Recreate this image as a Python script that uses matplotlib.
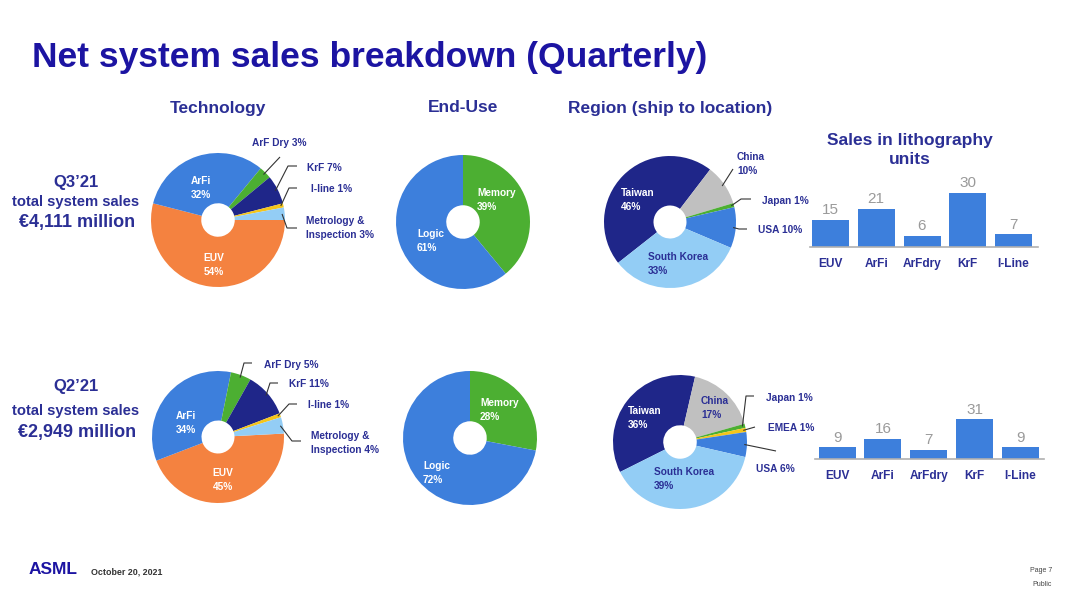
import numpy as np
import matplotlib.pyplot as plt

plt.rcParams['font.family'] = ['Liberation Sans', 'DejaVu Sans']

W, H = 1080, 600

# ---- data ----
tech_names = ['EUV', 'ArFi', 'ArF Dry', 'KrF', 'I-line', 'Metrology &\nInspection']
tech_q3 = [54, 32, 3, 7, 1, 3]
tech_q2 = [45, 34, 5, 11, 1, 4]

enduse_names = ['Memory', 'Logic']
enduse_q3 = [39, 61]
enduse_q2 = [28, 72]

region_names_q3 = ['Taiwan', 'China', 'Japan', 'USA', 'South Korea']
region_q3 = [46, 10, 1, 10, 33]
region_names_q2 = ['Taiwan', 'China', 'Japan', 'EMEA', 'USA', 'South Korea']
region_q2 = [36, 17, 1, 1, 6, 39]

unit_names = ['EUV', 'ArFi', 'ArFdry', 'KrF', 'I-Line']
units_q3 = [15, 21, 6, 30, 7]
units_q2 = [9, 16, 7, 31, 9]

# ---- colours ----
ORANGE = '#f48240'
BLUE = '#3d7fdc'
GREEN = '#4caf32'
NAVY = '#1f2689'
YELLOW = '#f5c51a'
LIGHT = '#93cdf5'
GREY = '#c0c0c0'
TITLE = '#1c14a2'
DARK = '#2b2f95'

tech_colors = [ORANGE, BLUE, GREEN, NAVY, YELLOW, LIGHT]
enduse_colors = [GREEN, BLUE]
region_colors = {'Taiwan': NAVY, 'China': GREY, 'Japan': GREEN, 'EMEA': YELLOW,
                 'USA': BLUE, 'South Korea': LIGHT}

fig = plt.figure(figsize=(10.8, 6), dpi=100)
ax = fig.add_axes([0, 0, 1, 1])


def donut(vals, colors, cx, cy, start, r=67):
    wedges, _ = ax.pie(vals, colors=colors, startangle=start, counterclock=False,
                       radius=r, center=(cx, H - cy),
                       wedgeprops=dict(width=r * 0.75, linewidth=0))
    return wedges


def edge_pt(w, frac=0.96):
    a = np.deg2rad((w.theta1 + w.theta2) / 2)
    return (w.center[0] + w.r * frac * np.cos(a),
            w.center[1] + w.r * frac * np.sin(a))


def inside(txt, x, y, color='white', ha='left'):
    ax.text(x, H - y, txt, color=color, fontsize=7.3, fontweight='bold',
            ha=ha, va='center', linespacing=1.5)


def outside(w, txt, x, y, pts):
    x0, y0 = edge_pt(w)
    xs = [x0] + [p[0] for p in pts]
    ys = [y0] + [H - p[1] for p in pts]
    ax.plot(xs, ys, color='#333333', lw=0.8, solid_capstyle='butt')
    ax.text(x, H - y, txt, color=DARK, fontsize=7.3, fontweight='bold',
            ha='left', va='center', linespacing=1.5)


# ---- technology ----
w = donut(tech_q3, tech_colors, 218, 220, 0)
inside(f'{tech_names[1]}\n{tech_q3[1]}%', 201, 188, ha='center')
inside(f'{tech_names[0]}\n{tech_q3[0]}%', 214, 265, ha='center')
outside(w[2], f'{tech_names[2]} {tech_q3[2]}%', 252, 143, [(280, 157)])
outside(w[3], f'{tech_names[3]} {tech_q3[3]}%', 307, 168, [(288, 166), (297, 166)])
outside(w[4], f'{tech_names[4]} {tech_q3[4]}%', 311, 189, [(289, 188), (297, 188)])
outside(w[5], f'{tech_names[5]} {tech_q3[5]}%', 306, 228, [(287, 228), (297, 228)])

w = donut(tech_q2, tech_colors, 218, 437, 3, r=66)
inside(f'{tech_names[1]}\n{tech_q2[1]}%', 186, 423, ha='center')
inside(f'{tech_names[0]}\n{tech_q2[0]}%', 223, 480, ha='center')
outside(w[2], f'{tech_names[2]} {tech_q2[2]}%', 264, 365, [(244, 363), (252, 363)])
outside(w[3], f'{tech_names[3]} {tech_q2[3]}%', 289, 384, [(270, 383), (278, 383)])
outside(w[4], f'{tech_names[4]} {tech_q2[4]}%', 308, 405, [(289, 404), (297, 404)])
outside(w[5], f'{tech_names[5]} {tech_q2[5]}%', 311, 443, [(292, 441), (301, 441)])

# ---- end-use ----
donut(enduse_q3, enduse_colors, 463, 222, 90)
inside(f'{enduse_names[0]}\n{enduse_q3[0]}%', 477, 200)
inside(f'{enduse_names[1]}\n{enduse_q3[1]}%', 417, 241)

donut(enduse_q2, enduse_colors, 470, 438, 90)
inside(f'{enduse_names[0]}\n{enduse_q2[0]}%', 480, 410)
inside(f'{enduse_names[1]}\n{enduse_q2[1]}%', 423, 473)

# ---- region ----
w = donut(region_q3, [region_colors[n] for n in region_names_q3], 670, 222, 218.2, r=66)
inside(f'{region_names_q3[0]}\n{region_q3[0]}%', 621, 200)
inside(f'{region_names_q3[4]}\n{region_q3[4]}%', 648, 264, color=DARK)
outside(w[1], f'{region_names_q3[1]}\n{region_q3[1]}%', 737, 164, [(733, 169)])
outside(w[2], f'{region_names_q3[2]} {region_q3[2]}%', 762, 201, [(741, 199), (751, 199)])
outside(w[3], f'{region_names_q3[3]} {region_q3[3]}%', 758, 230, [(739, 229), (747, 229)])

w = donut(region_q2, [region_colors[n] for n in region_names_q2], 680, 442, 206.6)
inside(f'{region_names_q2[0]}\n{region_q2[0]}%', 628, 418)
inside(f'{region_names_q2[1]}\n{region_q2[1]}%', 701, 408, color=DARK)
inside(f'{region_names_q2[5]}\n{region_q2[5]}%', 654, 479, color=DARK)
outside(w[2], f'{region_names_q2[2]} {region_q2[2]}%', 766, 398, [(746, 396), (754, 396)])
outside(w[3], f'{region_names_q2[3]} {region_q2[3]}%', 768, 428, [(755, 427)])
outside(w[4], f'{region_names_q2[4]} {region_q2[4]}%', 756, 469, [(776, 451)])

ax.set_xlim(0, W)
ax.set_ylim(0, H)
ax.set_aspect('auto')
ax.axis('off')

# ---- titles and side texts ----
ax.text(32, H - 57, 'Net system sales breakdown (Quarterly)', color=TITLE,
        fontsize=25.5, fontweight='bold', ha='left', va='center')
for txt, x in [('Technology', 218), ('End-Use', 463), ('Region (ship to location)', 670)]:
    ax.text(x, H - 108, txt, color=DARK, fontsize=12.5, fontweight='bold',
            ha='center', va='center')
ax.text(910, H - 150, 'Sales in lithography\nunits', color=DARK, fontsize=12.5,
        fontweight='bold', ha='center', va='center', linespacing=1.3)

for q, sales, y, gap in [('Q3’21', '€4,111 million', 183, 19), ('Q2’21', '€2,949 million', 386, 25)]:
    ax.text(76, H - y, q, color=DARK, fontsize=12, fontweight='bold', ha='center', va='center')
    ax.text(76, H - y - gap, 'total system sales', color=DARK, fontsize=10.6,
            fontweight='bold', ha='center', va='center')
    ax.text(77, H - y - gap - 21, sales, color=DARK, fontsize=13, fontweight='bold',
            ha='center', va='center')

# footer
ax.text(29, H - 570, 'ASML', color=TITLE, fontsize=12.5, fontweight='heavy', ha='left', va='center')
ax.text(91, H - 572, 'October 20, 2021', color='#333333', fontsize=6.4, fontweight='bold',
        ha='left', va='center')
ax.text(1052, H - 571, 'Page 7', color='#444444', fontsize=5, ha='right', va='center')
ax.text(1052, H - 585, 'Public', color='#444444', fontsize=5, ha='right', va='center')


# ---- bar charts ----
def units_bars(vals, left, right, base, scale, c0, step):
    height = 62
    bax = fig.add_axes([left / W, 1 - base / H, (right - left) / W, height / H])
    bars = bax.bar(range(len(vals)), vals, width=37 / step, color=BLUE, linewidth=0)
    bax.set_xlim((left - c0) / step, (right - c0) / step)
    bax.set_ylim(0, height / scale)
    bax.bar_label(bars, labels=[str(v) for v in vals], padding=2, color='#9a9a9a', fontsize=11)
    bax.set_xticks(range(len(vals)), unit_names)
    bax.tick_params(axis='x', length=0, pad=8, labelsize=8.6, labelcolor=DARK)
    for t in bax.get_xticklabels():
        t.set_fontweight('bold')
    bax.set_yticks([])
    for s in ['top', 'left', 'right']:
        bax.spines[s].set_visible(False)
    bax.spines['bottom'].set_color('#b0b0b0')
    bax.spines['bottom'].set_linewidth(1.2)
    bax.patch.set_alpha(0)


units_bars(units_q3, 810, 1038, 247, 1.8, 830.5, 45.75)
units_bars(units_q2, 815, 1044, 459, 1.28, 837, 45.9)

fig.savefig('out.png', dpi=100)
